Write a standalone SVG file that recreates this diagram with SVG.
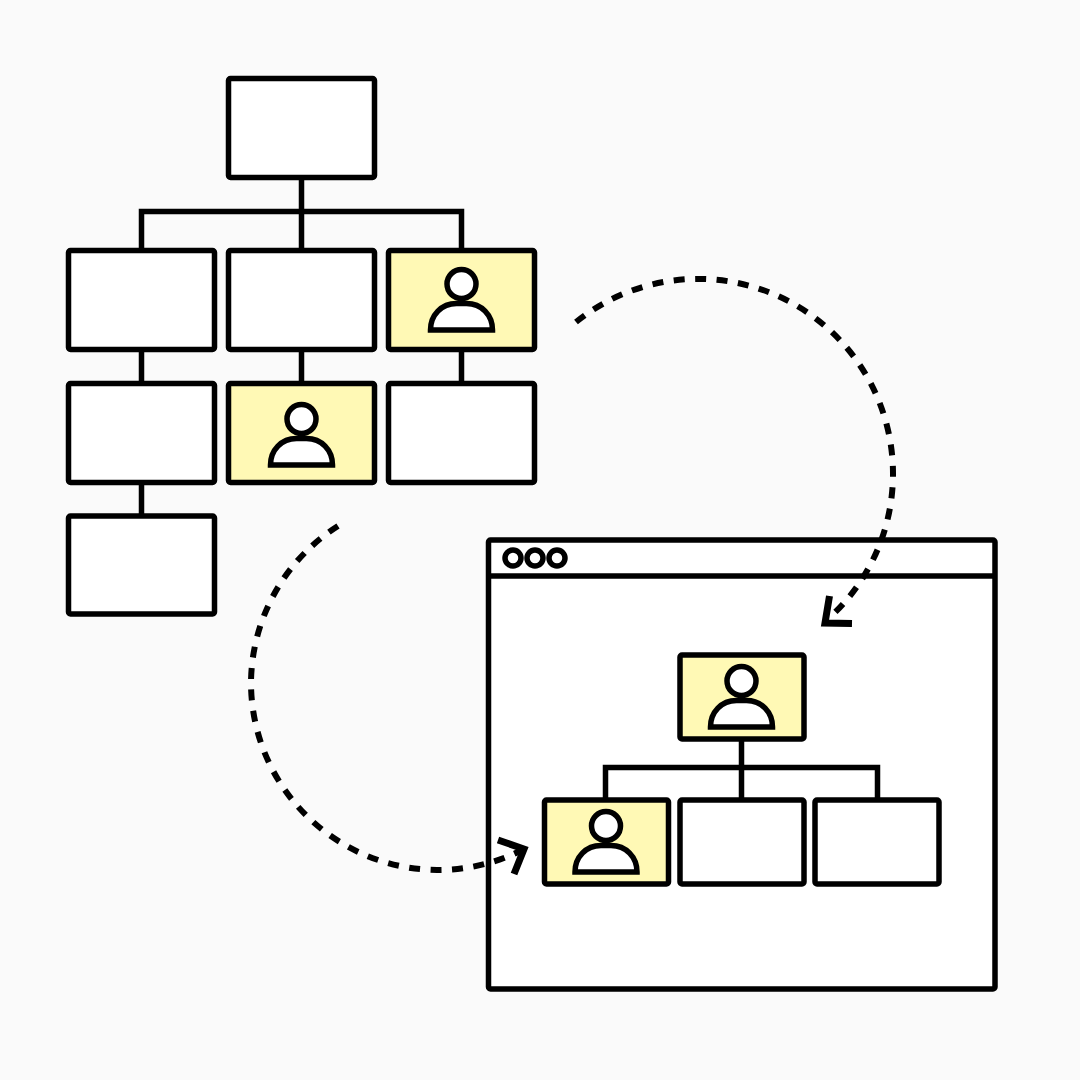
<svg xmlns="http://www.w3.org/2000/svg" width="1080" height="1080" viewBox="0 0 1080 1080">
<defs>
<style>
.s{stroke:#000;stroke-width:5.500;stroke-linejoin:round;fill:#fff}
.y{fill:#fff9b5}
.l{stroke:#000;stroke-width:5.500;fill:none}
.d{stroke:#000;stroke-width:6;fill:none;stroke-dasharray:11 10.500}
.a{stroke:#000;stroke-width:7;fill:none;stroke-linejoin:miter}
</style>
<g id="person">
<circle cx="0" cy="-16" r="14.500" class="s"/>
<path d="M-31 30 C-31 15 -20 3.500 -5 3.500 H5 C20 3.500 31 15 31 30 Z" class="s" style="stroke-linejoin:miter"/>
</g>
</defs>
<rect width="1080" height="1080" fill="#fafafa"/>
<g id="org-root"><rect class="s" x="228.500" y="78.500" width="146" height="99" rx="2"/></g>
<g id="org-a"><rect class="s" x="68.500" y="250.500" width="146" height="99" rx="2"/></g>
<g id="org-b"><rect class="s" x="228.500" y="250.500" width="146" height="99" rx="2"/></g>
<g id="org-c"><rect class="s y" x="388.500" y="250.500" width="146" height="99" rx="2"/><use href="#person" x="461.500" y="300"/></g>
<g id="org-a1"><rect class="s" x="68.500" y="383.500" width="146" height="99" rx="2"/></g>
<g id="org-b1"><rect class="s y" x="228.500" y="383.500" width="146" height="99" rx="2"/><use href="#person" x="301.500" y="435"/></g>
<g id="org-c1"><rect class="s" x="388.500" y="383.500" width="146" height="99" rx="2"/></g>
<g id="org-a2"><rect class="s" x="68.500" y="516" width="146" height="98" rx="2"/></g>
<g id="browser">
<rect class="s" x="488.500" y="540" width="506.500" height="449" rx="2"/>
<path class="l" d="M489 576H995"/>
<circle class="s" cx="513" cy="558" r="8"/>
<circle class="s" cx="535" cy="558" r="8"/>
<circle class="s" cx="557" cy="558" r="8"/>
</g>
<g id="web-root"><rect class="s y" x="680" y="655" width="124" height="84" rx="2"/><use href="#person" x="741.500" y="697"/></g>
<g id="web-a"><rect class="s y" x="544.500" y="800" width="124" height="84" rx="2"/><use href="#person" x="606" y="842"/></g>
<g id="web-b"><rect class="s" x="680" y="800" width="124" height="84" rx="2"/></g>
<g id="web-c"><rect class="s" x="815" y="800" width="124" height="84" rx="2"/></g>
<g id="connectors">
<path class="l" d="M301.500 180V248M141.500 248V211.500H461.500V248M141.500 352V381M301.500 352V381M461.500 352V381M141.500 485V514"/>
<path class="l" d="M741.500 741V798M605.500 798V767.500H877.500V798"/>
<path class="d" d="M576 322 A195 195 0 0 1 705 279 A195 195 0 0 1 893 475 A195 195 0 0 1 828 619"/>
<path class="a" d="M829.500 596 L825 623 L852 623.500"/>
<path class="d" d="M338 526 A187.500 187.500 0 0 0 251 682 A187.500 187.500 0 0 0 437 870 A187.500 187.500 0 0 0 520 851"/>
<path class="a" d="M498 840 L524 849 L514 874"/>
</g>
</svg>
